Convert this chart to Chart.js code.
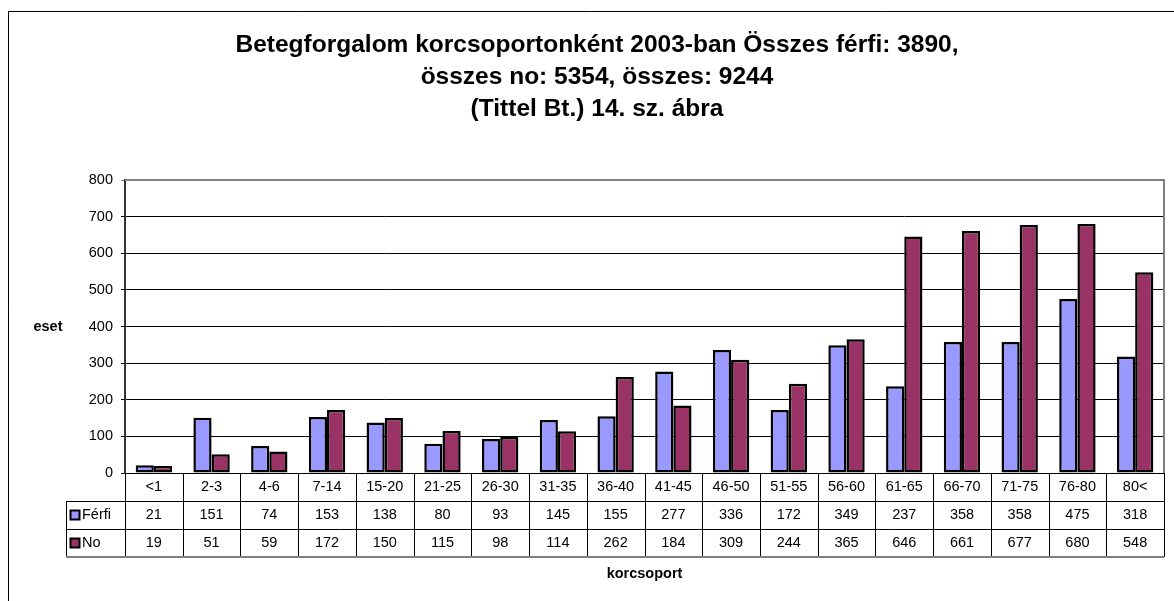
<!DOCTYPE html>
<html>
<head>
<meta charset="utf-8">
<script src="https://cdn.jsdelivr.net/npm/chart.js@4.4.1/dist/chart.umd.min.js"></script>
<style>
  html, body { margin: 0; padding: 0; background: #fff; }
</style>
</head>
<body>
<canvas id="betegChart" width="1174" height="601"></canvas>
<script>
const korcsoportok = ["<1", "2-3", "4-6", "7-14", "15-20", "21-25", "26-30", "31-35", "36-40",
    "41-45", "46-50", "51-55", "56-60", "61-65", "66-70", "71-75", "76-80", "80<"];
const ferfi = [21, 151, 74, 153, 138, 80, 93, 145, 155, 277, 336, 172, 349, 237, 358, 358, 475, 318];
const no = [19, 51, 59, 172, 150, 115, 98, 114, 262, 184, 309, 244, 365, 646, 661, 677, 680, 548];
const yTicks = [0, 100, 200, 300, 400, 500, 600, 700, 800];

const FONT = "'Liberation Sans', Arial, sans-serif";

// draws frame, axis captions and the data table under the plot (Excel style)
const tablePlugin = {
    id: 'dataTable',
    afterDraw(chart) {
        const ctx = chart.ctx;
        const area = chart.chartArea;
        const x = chart.scales.x;
        const rowH = 28;
        const y0 = area.bottom;
        const y1 = y0 + rowH, y2 = y1 + rowH, y3 = y2 + rowH;
        const leftCol = 66;
        const step = (area.right - area.left) / korcsoportok.length;

        ctx.save();
        // outer chart frame
        ctx.strokeStyle = '#000';
        ctx.lineWidth = 1;
        ctx.beginPath();
        ctx.moveTo(8.5, 601);
        ctx.lineTo(8.5, 11.5);
        ctx.lineTo(1174, 11.5);
        ctx.stroke();

        // plot area border
        ctx.strokeStyle = '#808080';
        ctx.lineWidth = 2;
        ctx.beginPath();
        ctx.moveTo(area.left, area.top);
        ctx.lineTo(area.right, area.top);
        ctx.lineTo(area.right, area.bottom);
        ctx.stroke();

        // table grid
        ctx.strokeStyle = '#000';
        ctx.lineWidth = 1;
        ctx.beginPath();
        [y1, y2].forEach(yy => {
            ctx.moveTo(leftCol, yy + 0.5);
            ctx.lineTo(area.right, yy + 0.5);
        });
        ctx.moveTo(leftCol + 0.5, y1);
        ctx.lineTo(leftCol + 0.5, y3);
        for (let i = 0; i <= korcsoportok.length; i++) {
            const xx = Math.round(area.left + i * step) + 0.5;
            ctx.moveTo(xx, y0);
            ctx.lineTo(xx, y3);
        }
        ctx.stroke();
        ctx.strokeStyle = '#808080';
        ctx.lineWidth = 2;
        ctx.beginPath();
        ctx.moveTo(leftCol, y3);
        ctx.lineTo(area.right, y3);
        ctx.stroke();

        // cell texts
        ctx.fillStyle = '#000';
        ctx.font = '14.5px ' + FONT;
        ctx.textAlign = 'center';
        ctx.textBaseline = 'middle';
        korcsoportok.forEach((k, i) => {
            const cx = x.getPixelForValue(i);
            ctx.fillText(k, cx, y0 + rowH / 2);
            ctx.fillText(String(ferfi[i]), cx, y1 + rowH / 2);
            ctx.fillText(String(no[i]), cx, y2 + rowH / 2);
        });

        // series keys in the first column
        chart.data.datasets.forEach((ds, d) => {
            const cy = y1 + d * rowH + rowH / 2;
            ctx.fillStyle = ds.backgroundColor;
            ctx.fillRect(70.5, cy - 4.5, 9, 9);
            ctx.strokeStyle = '#000';
            ctx.lineWidth = 2;
            ctx.strokeRect(70.5, cy - 4.5, 9, 9);
            ctx.fillStyle = '#000';
            ctx.textAlign = 'left';
            ctx.fillText(ds.label, 82, cy);
        });

        // axis captions
        ctx.font = 'bold 14.5px ' + FONT;
        ctx.textAlign = 'center';
        ctx.fillText('eset', 48, (area.top + area.bottom) / 2);
        ctx.fillText('korcsoport', (area.left + area.right) / 2, 574);
        ctx.restore();
    }
};

const config = {
    type: 'bar',
    data: {
        labels: korcsoportok,
        datasets: [
            {
                label: 'Férfi',
                data: ferfi,
                backgroundColor: '#9999FF',
                borderColor: '#000',
                borderWidth: 2.5,
                borderSkipped: false
            },
            {
                label: 'No',
                data: no,
                backgroundColor: '#993366',
                borderColor: '#000',
                borderWidth: 2.5,
                borderSkipped: false
            }
        ]
    },
    options: {
        responsive: false,
        animation: false,
        layout: { padding: { left: 30, right: 10, top: 0, bottom: 128 } },
        datasets: {
            bar: { categoryPercentage: 0.63, barPercentage: 1.0 }
        },
        plugins: {
            legend: { display: false },
            tooltip: { enabled: false },
            title: {
                display: true,
                text: ['Betegforgalom korcsoportonként 2003-ban Összes férfi: 3890,',
                       'összes no: 5354, összes: 9244',
                       '(Tittel Bt.) 14. sz. ábra'],
                color: '#000',
                font: { family: FONT, size: 24.5, weight: 'bold', lineHeight: 32 / 24.5 },
                padding: { top: 29, bottom: 55 }
            }
        },
        scales: {
            x: {
                ticks: { display: false },
                grid: { display: false, drawTicks: false },
                border: { color: '#000', width: 1 },
                afterFit(scale) { scale.height = 0; }
            },
            y: {
                min: 0,
                max: 800,
                afterBuildTicks(scale) {
                    scale.ticks = yTicks.map(v => ({ value: v }));
                },
                afterFit(scale) { scale.width = 95; },
                ticks: {
                    color: '#000',
                    font: { family: FONT, size: 14.5 },
                    padding: 8
                },
                grid: {
                    color: ctx => (ctx.tick && ctx.tick.value === 800) ? '#808080' : '#000',
                    lineWidth: 1,
                    tickLength: 4
                },
                border: { color: '#333', width: 2 }
            }
        }
    },
    plugins: [tablePlugin]
};

const betegChart = new Chart(document.getElementById('betegChart'), config);
</script>
</body>
</html>
